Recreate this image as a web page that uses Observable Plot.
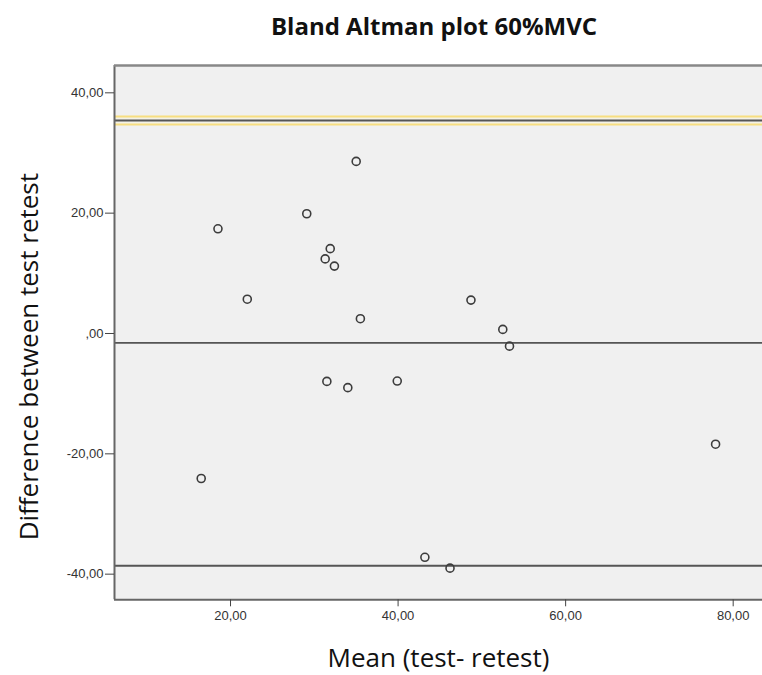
<!DOCTYPE html>
<html>
<head>
<meta charset="utf-8">
<script src="https://cdn.jsdelivr.net/npm/d3@7"></script>
<script src="https://cdn.jsdelivr.net/npm/@observablehq/plot@0.6"></script>
<style>
  html, body { margin: 0; padding: 0; background: #fff; overflow: hidden; }
  #wrap { position: relative; width: 762px; height: 675px; }
  #title { position: absolute; left: 110px; width: 648px; top: 9px; text-align: center;
           font-family: "Open Sans", sans-serif; font-weight: bold; font-size: 24px; color: #111; }
  svg { display: block; }
</style>
</head>
<body>
<div id="wrap">
  <div id="title"></div>
  <div id="chart"></div>
</div>
<script>
const titleText = "Bland Altman plot 60%MVC";
const xLabel = "Mean (test- retest)";
const yLabel = "Difference between test retest";

const meanVals = [35.0, 29.1, 18.5, 31.9, 31.3, 32.4, 22.0, 48.7, 35.5, 52.5, 53.3, 31.5, 34.0, 39.9, 16.5, 77.9, 43.2, 46.2];
const diffVals = [28.6, 19.9, 17.4, 14.1, 12.4, 11.2, 5.7, 5.55, 2.46, 0.68, -2.1, -7.96, -9.0, -7.9, -24.1, -18.4, -37.2, -39.0];

const meanDiff = [-1.55];
const upperLoA = [35.4];
const lowerLoA = [-38.6];

const xTicks = [20, 40, 60, 80];
const yTicks = [-40, -20, 0, 20, 40];
const xDomain = [6.15, 83.5];
const yDomain = [-44.26, 44.54];

const points = meanVals.map((m, i) => ({mean: m, diff: diffVals[i]}));
const fmt = d => d === 0 ? ",00" : d.toFixed(2).replace(".", ",");

document.getElementById("title").textContent = titleText;

const chart = Plot.plot({
  width: 762,
  height: 675,
  marginTop: 65,
  marginBottom: 75.7,
  marginLeft: 114,
  marginRight: 0,
  style: {background: "transparent", fontFamily: "'Liberation Sans', Arial, sans-serif"},
  x: {domain: xDomain},
  y: {domain: yDomain},
  marks: [
    Plot.frame({fill: "#f0f0f0", stroke: "none"}),
    // upper limit highlighted (yellow selection outline)
    Plot.ruleY(upperLoA, {stroke: "#f7dc7a", strokeWidth: 10, strokeOpacity: 0.95}),
    Plot.ruleY(upperLoA, {stroke: "#f3f1e6", strokeWidth: 6}),
    Plot.ruleY(upperLoA, {stroke: "#555", strokeWidth: 2}),
    Plot.ruleY(meanDiff, {stroke: "#555", strokeWidth: 1.8}),
    Plot.ruleY(lowerLoA, {stroke: "#555", strokeWidth: 1.8}),
    // frame edges (right side cut off as in the reference)
    Plot.ruleX([xDomain[0]], {stroke: "#666", strokeWidth: 2}),
    Plot.ruleY([yDomain[1]], {stroke: "#888", strokeWidth: 2.5}),
    Plot.ruleY([yDomain[0]], {stroke: "#666", strokeWidth: 2}),
    Plot.dot(points, {x: "mean", y: "diff", r: 4, stroke: "#3c3c3c", strokeWidth: 1.6, fill: "none"}),
    Plot.axisY(yTicks, {tickFormat: fmt, tickSize: 9, tickPadding: 2, fontSize: 13, stroke: "#444", color: "#333", label: null}),
    Plot.axisX(xTicks, {tickFormat: fmt, tickSize: 7, tickPadding: 4, fontSize: 13, stroke: "#444", color: "#333", label: null}),
    Plot.text([xLabel], {frameAnchor: "bottom", dy: 67, fontSize: 26, fill: "#111", fontFamily: "'Open Sans', sans-serif"}),
    Plot.text([yLabel], {frameAnchor: "left", textAnchor: "middle", dx: -85, dy: 24, rotate: -90, fontSize: 26, fill: "#111", fontFamily: "'Open Sans', sans-serif"})
  ]
});
document.getElementById("chart").appendChild(chart);
</script>
</body>
</html>
